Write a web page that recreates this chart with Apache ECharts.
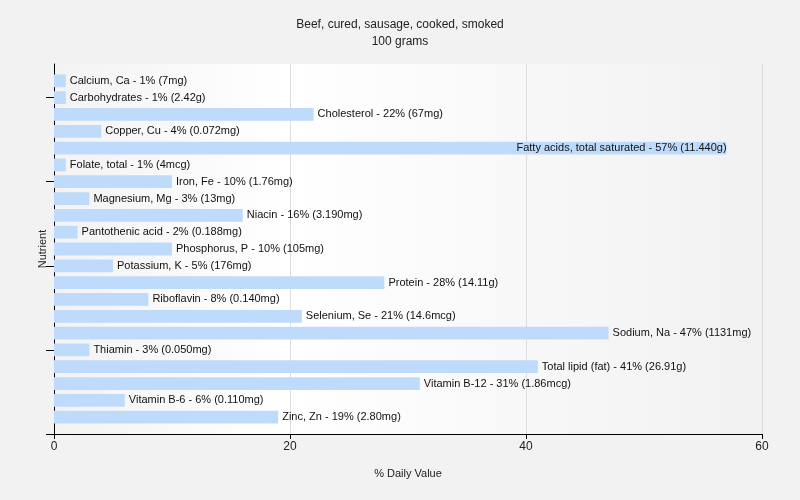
<!DOCTYPE html>
<html><head><meta charset="utf-8">
<script src="https://cdn.jsdelivr.net/npm/echarts@6/dist/echarts.min.js"></script>
<style>html,body{margin:0;padding:0;background:#f2f2f2;}#c{width:800px;height:500px;}</style>
</head><body><div id="c"></div>
<script>
const categories = ["Calcium, Ca","Carbohydrates","Cholesterol","Copper, Cu","Fatty acids, total saturated","Folate, total","Iron, Fe","Magnesium, Mg","Niacin","Pantothenic acid","Phosphorus, P","Potassium, K","Protein","Riboflavin","Selenium, Se","Sodium, Na","Thiamin","Total lipid (fat)","Vitamin B-12","Vitamin B-6","Zinc, Zn"];
const values = [1,1,22,4,57,1,10,3,16,2,10,5,28,8,21,47,3,41,31,6,19];
const amounts = ["7mg","2.42g","67mg","0.072mg","11.440g","4mcg","1.76mg","13mg","3.190mg","0.188mg","105mg","176mg","14.11g","0.140mg","14.6mcg","1131mg","0.050mg","26.91g","1.86mcg","0.110mg","2.80mg"];
const xTicks = [0,20,40,60];
const yTickValues = [0,5,10,15,20];

const font = 'Liberation Sans, Arial, sans-serif';
const chart = echarts.init(document.getElementById('c'));
const L=54, R=38, T=64, B=66;
const slot = (500-T-B)/22;
chart.setOption({
  backgroundColor:'#f2f2f2',
  animation:false,
  title:{text:'Beef, cured, sausage, cooked, smoked\n100 grams',left:'center',top:11,
    textStyle:{fontFamily:font,fontSize:12,fontWeight:'normal',color:'#222',lineHeight:17}},
  grid:[
    {left:L,right:R,top:T,bottom:B,show:true,borderWidth:0,
      backgroundColor:new echarts.graphic.LinearGradient(0,0,1,0,[{offset:0,color:'#f3f3f3'},{offset:0.33,color:'#ffffff'},{offset:1,color:'#f1f1f1'}])},
    {left:L,right:R,top:T+slot/2,bottom:B+slot/2}
  ],
  xAxis:[
    {gridIndex:0,type:'value',min:0,max:60,interval:20,
      name:'% Daily Value',nameLocation:'middle',nameGap:34,
      nameTextStyle:{fontFamily:font,fontSize:11,color:'#222'},
      axisLine:{show:true,lineStyle:{color:'#000'}},
      axisTick:{show:true,length:5,lineStyle:{color:'#000'}},
      axisLabel:{fontFamily:font,fontSize:12,color:'#222',margin:7},
      splitLine:{show:true,lineStyle:{color:'#dddddd'}}},
    {gridIndex:1,type:'value',min:0,max:60,show:false}
  ],
  yAxis:[
    {gridIndex:0,type:'value',min:0,max:22,
      name:'Nutrient',nameLocation:'middle',nameGap:6,nameRotate:90,
      nameTextStyle:{fontFamily:font,fontSize:11,color:'#222'},
      axisLine:{show:true,lineStyle:{color:'#000'}},
      axisTick:{show:true,length:8,customValues:yTickValues,lineStyle:{color:'#000'}},
      axisLabel:{show:false},splitLine:{show:false}},
    {gridIndex:1,type:'category',data:categories,inverse:true,show:false}
  ],
  series:[{
    type:'bar',xAxisIndex:1,yAxisIndex:1,barCategoryGap:'24%',
    itemStyle:{color:'#bfdbfb'},
    data:values.map((v,i)=>({value:v,label:{position: v>50?'insideRight':'right', distance: v>50?0:4}})),
    label:{show:true,fontFamily:font,fontSize:11,color:'#111',
      formatter:p=>`${categories[p.dataIndex]} - ${values[p.dataIndex]}% (${amounts[p.dataIndex]})`}
  }]
});
</script></body></html>
